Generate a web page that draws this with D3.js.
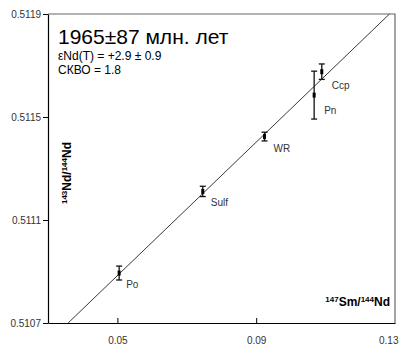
<!DOCTYPE html>
<html>
<head>
  <title>Sm-Nd isochron</title>
  <script src="https://d3js.org/d3.v7.min.js"></script>
  <style>
    body { margin: 0; background: #fff; }
    text { font-family: "Liberation Sans", Arial, sans-serif; }
  </style>
</head>
<body>
  <svg id="chart"></svg>

  <script>
    // samples, 147Sm/144Nd vs 143Nd/144Nd with 2-sigma errors
    var samples = ["Po", "Sulf", "WR", "Pn", "Ccp"];
    var smNd = [0.0505, 0.0746, 0.0924, 0.1067, 0.1089];
    var ndNd = [0.510894, 0.511211, 0.511424, 0.511585, 0.511676];
    var ndErr = [0.000027, 0.000020, 0.000017, 0.000093, 0.000030];

    // isochron end points
    var isoX = [0.0358, 0.1284];
    var isoY = [0.5107, 0.5119];

    var xTicks = [0.05, 0.09, 0.13];
    var yTicks = [0.5107, 0.5111, 0.5115, 0.5119];

    var width = 400, height = 346;
    var plotLeft = 48, plotRight = 395, plotTop = 14, plotBottom = 323;

    var svg = d3.select("#chart")
      .attr("width", width)
      .attr("height", height);

    var x = d3.scaleLinear().domain([0.03, 0.13]).range([plotLeft, plotRight]);
    var y = d3.scaleLinear().domain([0.5107, 0.5119]).range([plotBottom, plotTop]);

    // frame: top/right lighter
    svg.append("path")
      .attr("d", "M" + plotLeft + "," + plotTop + "H" + plotRight + "V" + plotBottom)
      .attr("fill", "none")
      .attr("stroke", "#666")
      .attr("stroke-width", 1.2);

    // y axis (ticks outward)
    var yAxis = svg.append("g")
      .attr("transform", "translate(" + plotLeft + ",0)")
      .call(d3.axisLeft(y).tickValues(yTicks).tickFormat(d3.format(".4f")).tickSize(5).tickSizeOuter(0));

    // x axis (ticks point inward)
    var xAxis = svg.append("g")
      .attr("transform", "translate(0," + plotBottom + ")")
      .call(d3.axisBottom(x).tickValues(xTicks).tickFormat(d3.format(".2f")).tickSize(-5).tickSizeOuter(0));

    [yAxis, xAxis].forEach(function(g) {
      g.select(".domain").attr("stroke", "#000").attr("stroke-width", 1.2);
      g.selectAll(".tick line").attr("stroke", "#000").attr("stroke-width", 1);
      g.selectAll(".tick text")
        .attr("fill", "#333")
        .style("font-size", "10px")
        .style("font-family", "'Liberation Sans', Arial, sans-serif");
    });
    yAxis.selectAll(".tick text").attr("x", -7).attr("dy", "0.35em");
    xAxis.selectAll(".tick text").attr("y", 14).attr("dy", "0.71em");
    var lastTick = xAxis.selectAll(".tick").filter(function(d) { return d === 0.13; });
    lastTick.select("line").remove();
    lastTick.select("text").attr("text-anchor", "end").attr("x", 3);

    // isochron
    svg.append("line")
      .attr("x1", x(isoX[0])).attr("y1", y(isoY[0]))
      .attr("x2", x(isoX[1])).attr("y2", y(isoY[1]))
      .attr("stroke", "#222")
      .attr("stroke-width", 0.9);

    var data = samples.map(function(s, i) {
      return { name: s, x: smNd[i], y: ndNd[i], e: ndErr[i] };
    });

    var pts = svg.append("g").selectAll("g")
      .data(data)
      .enter().append("g");

    pts.append("line")
      .attr("x1", d => x(d.x)).attr("x2", d => x(d.x))
      .attr("y1", d => y(d.y + d.e)).attr("y2", d => y(d.y - d.e))
      .attr("stroke", "#111").attr("stroke-width", 1.3);
    pts.append("line")
      .attr("x1", d => x(d.x) - 3).attr("x2", d => x(d.x) + 3)
      .attr("y1", d => y(d.y + d.e)).attr("y2", d => y(d.y + d.e))
      .attr("stroke", "#111").attr("stroke-width", 1.3);
    pts.append("line")
      .attr("x1", d => x(d.x) - 3).attr("x2", d => x(d.x) + 3)
      .attr("y1", d => y(d.y - d.e)).attr("y2", d => y(d.y - d.e))
      .attr("stroke", "#111").attr("stroke-width", 1.3);
    pts.append("rect")
      .attr("x", d => x(d.x) - 1.5).attr("y", d => y(d.y) - 2.5)
      .attr("width", 3).attr("height", 5)
      .attr("fill", "#000");

    // sample labels
    var labelDx = [7, 8, 9, 10, 10];
    var labelDy = [15, 15, 15, 19, 17];
    pts.append("text")
      .attr("x", (d, i) => x(d.x) + labelDx[i])
      .attr("y", (d, i) => y(d.y) + labelDy[i])
      .attr("fill", "#333")
      .style("font-size", "10px")
      .text(d => d.name);

    // axis titles
    var xt = svg.append("text")
      .attr("x", 390).attr("y", 306)
      .attr("text-anchor", "end")
      .style("font-size", "12px")
      .style("font-weight", "bold");
    xt.append("tspan").attr("font-size", "8px").attr("dy", "-4").text("147");
    xt.append("tspan").attr("dy", "4").text("Sm/");
    xt.append("tspan").attr("font-size", "8px").attr("dy", "-4").text("144");
    xt.append("tspan").attr("dy", "4").text("Nd");

    var yt = svg.append("text")
      .attr("transform", "translate(71,173) rotate(-90)")
      .attr("text-anchor", "middle")
      .style("font-size", "12px")
      .style("font-weight", "bold");
    yt.append("tspan").attr("font-size", "8px").attr("dy", "-4").text("143");
    yt.append("tspan").attr("dy", "4").text("Nd/");
    yt.append("tspan").attr("font-size", "8px").attr("dy", "-4").text("144");
    yt.append("tspan").attr("dy", "4").text("Nd");

    // age annotation
    svg.append("text")
      .attr("x", 58).attr("y", 44)
      .style("font-size", "21px")
      .attr("fill", "#000")
      .text("1965±87 млн. лет");
    svg.append("text")
      .attr("x", 58).attr("y", 59.5)
      .style("font-size", "12px")
      .text("εNd(T) = +2.9 ± 0.9");
    svg.append("text")
      .attr("x", 58).attr("y", 73.5)
      .style("font-size", "12px")
      .text("СКВО = 1.8");
  </script>
</body>
</html>
